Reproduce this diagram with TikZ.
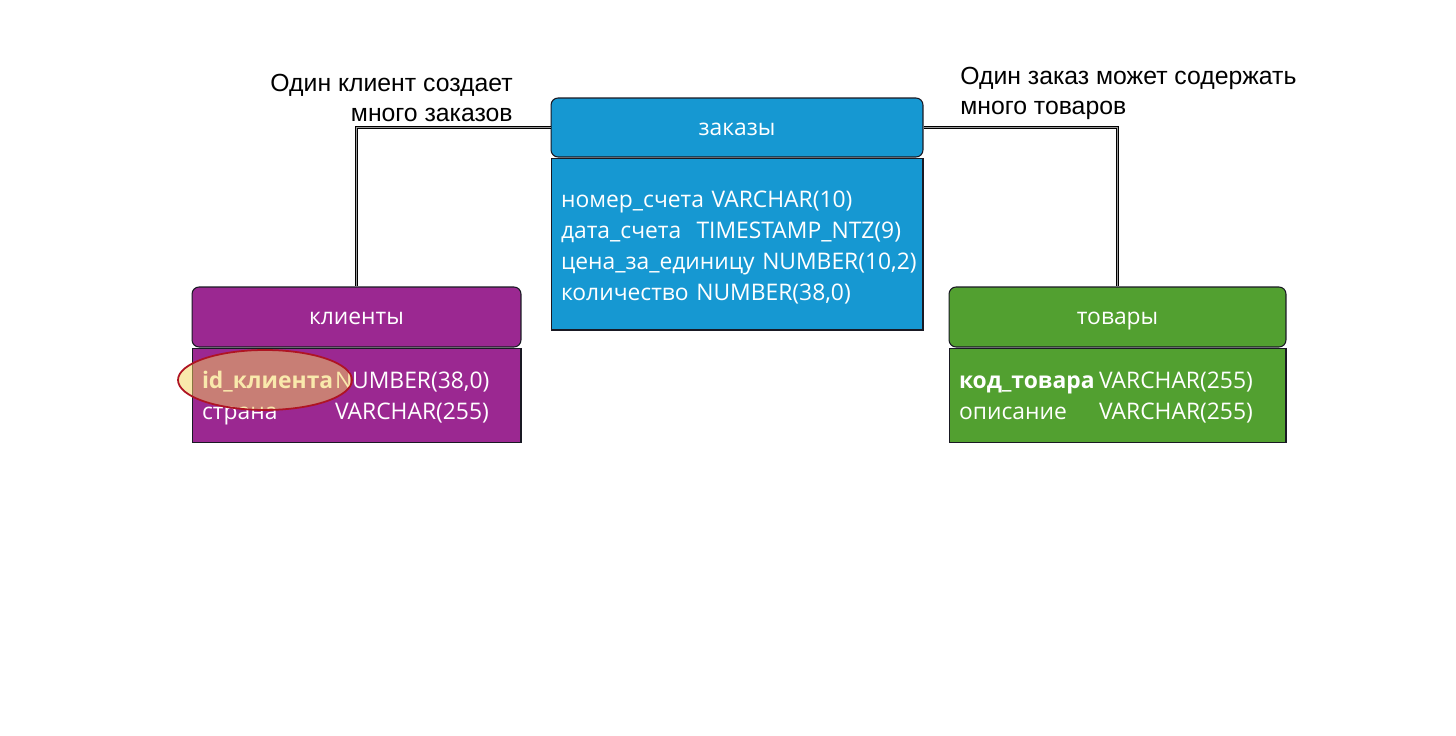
\documentclass[tikz,border=0pt]{standalone}
\usepackage{fontspec}
\setmainfont{Open Sans}
\newfontfamily\notefont{Liberation Sans}
\usepackage{tikz}
\usetikzlibrary{shapes.geometric, positioning}
\definecolor{tblpurple}{RGB}{155,40,145}
\definecolor{tblblue}{RGB}{22,152,210}
\definecolor{tblgreen}{RGB}{82,160,48}
\definecolor{tbledge}{RGB}{25,25,35}
\definecolor{hlfill}{RGB}{245,212,90}
\definecolor{hlred}{RGB}{175,20,35}
\tikzset{
  tblhead/.style={rectangle, draw=tbledge, line width=0.6pt, rounded corners=4pt,
    text=white, align=center, font=\fontsize{13}{17.6}\selectfont,
    text height=1.0em, text depth=0.1em,
    minimum height=1.2cm, inner sep=0pt},
  tblbody/.style={rectangle, draw=tbledge, line width=0.6pt,
    text=white, align=left, font=\fontsize{13}{17.6}\selectfont,
    inner xsep=0.2cm, inner ysep=0pt},
  note/.style={font=\notefont\fontsize{14.1}{17.2}\selectfont, text=black, inner sep=0pt},
  link/.style={line width=0.9pt, double=black!40, double distance=0.45pt, color=black}
}

\begin{document}
\begin{tikzpicture}[x=0.02cm, y=-0.02cm]
  \useasboundingbox[fill=white] (0,0) rectangle (1456,736);

  % tables
  \node[tblhead, fill=tblblue, minimum width=7.44cm, minimum height=1.18cm] (zakhead) at (737,127.5) {заказы};
  \node[tblbody, fill=tblblue, below=0pt of zakhead, minimum width=7.44cm, minimum height=3.44cm, text width=7.04cm] (zakbody)
    {\begin{tabular}{@{}l@{}}\noalign{\vspace{0.16cm}}номер\_счета VARCHAR(10)\\дата\_счета\ \ TIMESTAMP\_NTZ(9)\\цена\_за\_единицу NUMBER(10,2)\\количество NUMBER(38,0)\end{tabular}};

  \node[tblhead, fill=tblpurple, minimum width=6.58cm] (klihead) at (356.5,317) {клиенты};
  \node[tblbody, fill=tblpurple, below=0pt of klihead, minimum width=6.58cm, minimum height=1.88cm, text width=6.18cm] (klibody)
    {\begin{tabular}{@{}p{2.66cm}@{}l@{}}\noalign{\vspace{0.12cm}}\textbf{id\_клиента} & NUMBER(38,0)\\ страна & VARCHAR(255)\end{tabular}};

  \node[tblhead, fill=tblgreen, minimum width=6.74cm] (tovhead) at (1117.5,317) {товары};
  \node[tblbody, fill=tblgreen, below=0pt of tovhead, minimum width=6.74cm, minimum height=1.88cm, text width=6.34cm] (tovbody)
    {\begin{tabular}{@{}p{2.8cm}@{}l@{}}\noalign{\vspace{0.12cm}}\textbf{код\_товара} & VARCHAR(255)\\ описание & VARCHAR(255)\end{tabular}};

  % highlight on the key
  \node[ellipse, draw=hlred, line width=1pt, fill=hlfill, fill opacity=0.5,
    minimum width=3.48cm, minimum height=1.2cm] (keymark) at (265,380) {};

  % relations
  \draw[link] (zakhead.west) -| (klihead.north);
  \draw[link] (zakhead.east) -| (tovhead.north);

  % notes
  \node[note, align=right, anchor=north east] (note1) at (513,74) {Один клиент создает\\много заказов};
  \node[note, align=left, anchor=north west] (note2) at (960,67) {Один заказ может содержать\\много товаров};
\end{tikzpicture}
\end{document}
